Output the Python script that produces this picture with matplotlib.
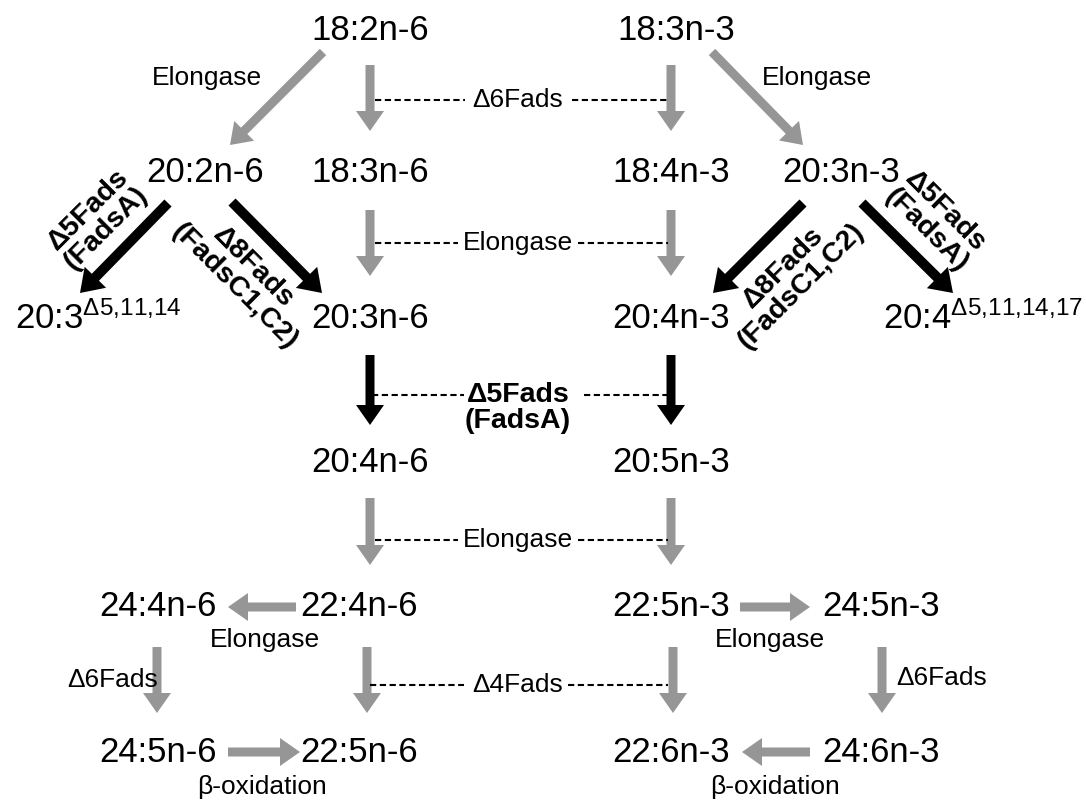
import matplotlib
matplotlib.use("Agg")
import matplotlib.pyplot as plt
from matplotlib.patches import FancyArrow

plt.rcParams['font.family'] = ['Liberation Sans', 'DejaVu Sans']
plt.rcParams['mathtext.fontset'] = 'custom'
plt.rcParams['mathtext.rm'] = 'Liberation Sans'
plt.rcParams['mathtext.it'] = 'Liberation Sans:italic'
plt.rcParams['mathtext.bf'] = 'Liberation Sans:bold'

# ---- content ----
nodes = ["18:2n-6", "18:3n-3",
         "20:2n-6", "18:3n-6", "18:4n-3", "20:3n-3",
         "20:3n-6", "20:4n-3",
         "20:4n-6", "20:5n-3",
         "24:4n-6", "22:4n-6", "22:5n-3", "24:5n-3",
         "24:5n-6", "22:5n-6", "22:6n-3", "24:6n-3"]
side_nodes = [r"20:3$^{\mathrm{Δ5{,}11{,}14}}$", r"20:4$^{\mathrm{Δ5{,}11{,}14{,}17}}$"]
enzyme_rows = ["Δ6Fads", "Elongase", "Δ5Fads\n(FadsA)", "Elongase", "Δ4Fads"]
small_labels = ["Elongase", "Elongase", "Elongase", "Elongase",
                "Δ6Fads", "Δ6Fads", "β-oxidation", "β-oxidation"]
bold_diag = ["Δ5Fads\n(FadsA)", "Δ8Fads\n(FadsC1,C2)", "Δ8Fads\n(FadsC1,C2)", "Δ5Fads\n(FadsA)"]

# ---- layout (pixel space) ----
node_xy = [(370, 30), (676, 30),
           (205, 172), (370, 172), (671, 172), (841, 172),
           (370, 318), (671, 318),
           (370, 462), (671, 462),
           (158, 607), (359, 607), (671, 607), (881, 607),
           (158, 752), (359, 752), (671, 752), (881, 752)]
side_xy = [(15, 318), (883, 318)]

GRAY = '#969696'
BLACK = '#000000'

fig = plt.figure(figsize=(10.86, 8.02), dpi=100)
ax = fig.add_axes([0, 0, 1, 1])
ax.set_xlim(0, 1086)
ax.set_ylim(802, 0)
ax.axis('off')

FS = 25
for name, (x, y) in zip(nodes, node_xy):
    ax.text(x, y, name, fontsize=FS, ha='center', va='center')
for name, (x, y) in zip(side_nodes, side_xy):
    ax.text(x, y + 1, name, fontsize=FS, ha='left', va='center')

def arrow(x0, y0, x1, y1, color, w=9, hw=28, hl=20):
    ax.add_patch(FancyArrow(x0, y0, x1 - x0, y1 - y0, width=w, head_width=hw,
                            head_length=hl, length_includes_head=True,
                            color=color, lw=0))

# vertical column arrows
colA, colB = 370, 671
vrows = [(65, 131, GRAY), (210, 276, GRAY), (355, 425, BLACK), (498, 565, GRAY)]
for y0, y1, c in vrows:
    arrow(colA, y0, colA, y1, c)
    arrow(colB, y0, colB, y1, c)
arrow(367, 647, 367, 713, GRAY)
arrow(673, 647, 673, 713, GRAY)
arrow(157, 647, 157, 713, GRAY)
arrow(882, 647, 882, 713, GRAY)

# diagonal elongase arrows
arrow(323, 52, 230, 145, GRAY)
arrow(712, 52, 803, 145, GRAY)
# black diagonal arrows
arrow(168, 203, 80, 293, BLACK, w=10, hw=30, hl=22)
arrow(232, 202, 322, 293, BLACK, w=10, hw=30, hl=22)
arrow(803, 203, 713, 293, BLACK, w=10, hw=30, hl=22)
arrow(862, 203, 953, 293, BLACK, w=10, hw=30, hl=22)

# horizontal arrows
arrow(296, 607, 228, 607, GRAY)
arrow(228, 752, 300, 752, GRAY)
arrow(740, 607, 810, 607, GRAY)
arrow(810, 752, 742, 752, GRAY)

# dashed connector rows with enzyme labels
dash_y = [100, 243, 395, 540, 685]
dash_segs = [((375, 465), (572, 668)),
             ((375, 458), (578, 668)),
             ((372, 464), (584, 668)),
             ((375, 458), (578, 668)),
             ((370, 464), (568, 668))]
for lab, y, segs in zip(enzyme_rows, dash_y, dash_segs):
    for (a, b) in segs:
        ax.plot([a, b], [y, y], color='black', lw=1.5, ls=(0, (3.0, 1.7)))
    bold = '\n' in lab
    ax.text(518, y + (13 if bold else 0), lab, fontsize=19 if not bold else 20.5,
            fontweight='bold' if bold else 'normal', ha='center', va='center',
            linespacing=1.0)

# small labels
small_xy = [(207, 78), (817, 78), (265, 640), (770, 640),
            (113, 680), (942, 678), (262, 787), (775, 787)]
for lab, (x, y) in zip(small_labels, small_xy):
    ax.text(x, y, lab, fontsize=19, ha='center', va='center')

# rotated bold labels
diag_xy = [(97, 219, 45), (244, 277, -45), (792, 277, 45), (936, 221, -45)]
for lab, (x, y, r) in zip(bold_diag, diag_xy):
    ax.text(x, y, lab, fontsize=20.5, fontweight='bold', ha='center', va='center',
            rotation=r, rotation_mode='anchor', linespacing=1.0)

fig.savefig('out.png', dpi=100)
